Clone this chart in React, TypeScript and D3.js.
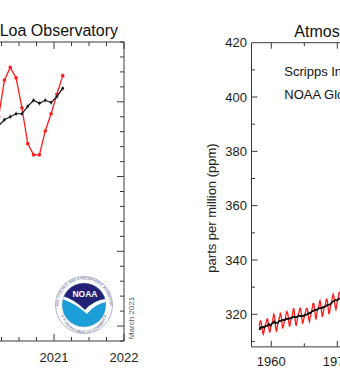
import React from "react";
import * as d3 from "d3";

// ---------- data: recent Mauna Loa monthly means (left panel) ----------
const recentStartYear = 2020;
const recentStartMonth = 2; // February 2020
const recentMonthly = [414.3, 414.0, 416.45, 417.3, 416.6, 414.6, 412.2, 411.45, 411.45, 413.05, 414.2, 415.5, 416.75];
const recentTrend = [413.3, 413.4, 413.8, 414.0, 414.2, 414.2, 414.7, 415.1, 414.9, 415.1, 414.95, 415.35, 415.9];
const recentYearTicks = [2017, 2018, 2019, 2020, 2021, 2022];
const recentPpmMajor = [400, 405, 410, 415];

// ---------- data: full record (right panel) ----------
const fullStartYear = 1958;
const fullStartMonth = 3; // March 1958
const fullMonthly = [
  315.70, 317.45, 317.51, 317.24, 315.86, 314.93, 313.20, 312.66, 313.33, 314.67,
  315.62, 316.38, 316.71, 317.72, 318.29, 318.15, 316.54, 314.80, 313.84, 313.26, 314.80, 315.58,
  316.43, 316.97, 317.58, 319.02, 320.03, 319.59, 318.18, 315.91, 314.16, 313.83, 315.00, 316.19,
  316.93, 317.70, 318.54, 319.48, 320.58, 319.77, 318.57, 316.79, 314.80, 315.38, 316.10, 317.01,
  317.94, 318.55, 319.68, 320.57, 321.02, 320.62, 319.61, 317.40, 316.25, 315.42, 316.69, 317.70,
  318.74, 319.07, 319.86, 321.38, 322.25, 321.48, 319.74, 317.77, 316.21, 315.99, 317.12, 318.31,
  319.57, 320.07, 320.73, 321.84, 322.26, 321.89, 320.44, 318.69, 316.70, 316.87, 317.68, 318.71,
  319.44, 320.44, 320.89, 322.14, 322.17, 321.87, 321.21, 318.87, 317.81, 317.30, 318.87, 319.42,
  320.62, 321.59, 322.39, 323.87, 324.01, 323.75, 322.39, 320.37, 318.64, 318.10, 319.79, 321.08,
  322.07, 322.50, 323.04, 324.42, 325.00, 324.09, 322.54, 320.92, 319.25, 319.39, 320.73, 321.96,
  322.57, 323.15, 323.89, 325.02, 325.57, 325.36, 324.14, 322.11, 320.33, 320.25, 321.32, 322.89,
  324.00, 324.42, 325.63, 326.66, 327.38, 326.71, 325.88, 323.66, 322.38, 321.78, 322.86, 324.12,
  325.06, 325.98, 326.93, 328.13, 328.08, 327.67, 326.34, 324.69, 323.10, 323.07, 324.01, 325.13,
  326.17, 326.68, 327.17, 327.79, 328.93, 328.57, 327.36, 325.43, 323.36, 323.56, 324.80, 326.01,
];
const fullTrend = [
  314.4, 315.2, 314.7, 315.1, 315.2, 315.2, 315.3, 315.3, 315.3, 315.0,
  315.5, 315.7, 315.7, 315.6, 315.8, 316.0, 316.2, 316.5, 316.2, 316.0, 315.8, 316.0,
  316.4, 316.6, 316.7, 316.9, 317.2, 317.4, 317.0, 316.7, 317.0, 316.9, 316.9, 316.9,
  317.0, 317.3, 317.6, 317.5, 317.7, 317.6, 317.6, 317.8, 317.9, 318.0, 317.8, 317.7,
  318.0, 318.0, 318.3, 318.3, 318.4, 318.3, 318.4, 318.4, 318.4, 318.5, 318.5, 318.5,
  318.8, 318.7, 318.8, 319.1, 319.1, 319.0, 319.0, 318.9, 318.9, 318.9, 319.0, 319.1,
  319.3, 319.4, 319.5, 319.5, 319.3, 319.4, 319.4, 319.5, 319.3, 319.4, 319.5, 319.6,
  319.5, 319.8, 319.9, 319.9, 319.9, 320.0, 320.1, 320.1, 320.6, 320.4, 320.5, 320.4,
  320.7, 320.9, 321.1, 321.3, 321.2, 321.5, 321.5, 321.5, 321.7, 321.6, 321.7, 321.8,
  321.9, 322.1, 322.1, 322.3, 322.3, 322.3, 322.2, 322.4, 322.3, 322.6, 322.7, 322.7,
  322.8, 322.8, 322.9, 323.0, 323.1, 323.4, 323.6, 323.5, 323.6, 323.6, 323.6, 323.7,
  324.0, 324.2, 324.4, 324.6, 324.8, 324.8, 324.9, 325.1, 325.2, 325.2, 325.1, 325.1,
  325.3, 325.5, 325.6, 325.8, 325.8, 325.8, 325.9, 326.0, 326.0, 326.1, 326.2, 326.2,
  326.3, 326.4, 326.5, 326.6, 326.7, 326.6, 326.8, 326.9, 327.0, 327.0, 327.1, 327.2,
];
const fullYearTicks = [1960, 1970, 1980, 1990, 2000, 2010, 2020];
const fullPpmTicks = [320, 340, 360, 380, 400, 420];

const FONT = "'Liberation Sans', Arial, Helvetica, sans-serif";
const AXIS = "#3a3a3a";

const toTime = (sy: number, sm: number, i: number) => sy + (sm - 1 + i + 0.5) / 12;

function NoaaLogo({ cx, cy }: { cx: number; cy: number }) {
  const R = 28.5;
  const r = 22;
  const topArc = `M ${cx - 25.5} ${cy} A 25.5 25.5 0 0 1 ${cx + 25.5} ${cy}`;
  const botArc = `M ${cx - 25.5} ${cy + 2} A 25.5 25.5 0 0 0 ${cx + 25.5} ${cy + 2}`;
  return (
    <g>
      <defs>
        <clipPath id="noaaInner">
          <circle cx={cx} cy={cy} r={r} />
        </clipPath>
        <path id="noaaTopArc" d={topArc} />
        <path id="noaaBotArc" d={`M ${cx - 23} ${cy + 5} A 23 23 0 0 0 ${cx + 23} ${cy + 5}`} />
      </defs>
      <circle cx={cx} cy={cy} r={R} fill="#fff" stroke="#8f8fb8" strokeWidth={0.7} />
      <text fontFamily={FONT} fontSize={3.4} fill="#3a3a80" letterSpacing={0.15}>
        <textPath href="#noaaTopArc" startOffset="50%" textAnchor="middle">
          NATIONAL OCEANIC AND ATMOSPHERIC ADMINISTRATION
        </textPath>
      </text>
      <text fontFamily={FONT} fontSize={3.4} fill="#3a3a80" letterSpacing={0.15}>
        <textPath href="#noaaBotArc" startOffset="50%" textAnchor="middle">
          U.S. DEPARTMENT OF COMMERCE
        </textPath>
      </text>
      <g clipPath="url(#noaaInner)">
        <rect x={cx - r} y={cy - r} width={2 * r} height={2 * r} fill="#1c9fd9" />
        <path
          d={`M ${cx - r} ${cy - r} L ${cx + r} ${cy - r} L ${cx + r} ${cy - 6} Q ${cx + 10} ${cy - 5} ${cx + 1} ${cy + 5} Q ${cx - 10} ${cy - 6} ${cx - r} ${cy - 9} Z`}
          fill="#232176"
        />
        <path
          d={`M ${cx - r} ${cy - 9} Q ${cx - 10} ${cy - 6} ${cx + 1} ${cy + 5} Q ${cx + 10} ${cy - 5} ${cx + r} ${cy - 6} L ${cx + r} ${cy - 3} Q ${cx + 11} ${cy - 1} ${cx + 3} ${cy + 9} Q ${cx - 9} ${cy - 2} ${cx - r} ${cy - 6} Z`}
          fill="#fff"
        />
      </g>
      <circle cx={cx} cy={cy} r={r} fill="none" stroke="#b5b5d0" strokeWidth={0.4} />
      <text x={cx + 1} y={cy - 8} fontFamily={FONT} fontSize={8.5} fontWeight="bold" fill="#fff" textAnchor="middle">
        NOAA
      </text>
    </g>
  );
}

export default function App() {
  const W = 340;
  const H = 376;

  // ---- left panel ----
  const L = { left: -226, right: 124, top: 42, bottom: 341 };
  const xL = d3.scaleLinear().domain([2017, 2022]).range([L.left, L.right]);
  const yL = d3.scaleLinear().domain([399, 419]).range([L.bottom, L.top]);
  const lineL = d3
    .line<number>()
    .x((_, i) => xL(toTime(recentStartYear, recentStartMonth, i)))
    .y((d) => yL(d));
  const quarterTicks = d3.range(2017, 2022.001, 0.25);
  const ppmMinorL = d3.range(399, 419.001, 1);

  // ---- right panel ----
  const R = { left: 251.5, top: 42.7, bottom: 346.9 };
  const xR = d3.scaleLinear().domain([1957, 2023]).range([R.left, R.left + 66 * 6.6]);
  const yR = d3.scaleLinear().domain([308, 420]).range([R.bottom, R.top]);
  const lineR = d3
    .line<number>()
    .x((_, i) => xR(toTime(fullStartYear, fullStartMonth, i)))
    .y((d) => yR(d));
  const halfDecade = d3.range(1960, 2021, 5);
  const ppmMinorR = d3.range(310, 420, 10);

  return (
    <svg width={W} height={H} style={{ position: "absolute", left: 0, top: 0, background: "#fff" }}>
      <rect x={0} y={0} width={W} height={H} fill="#fff" />
      <defs>
        <clipPath id="clipL">
          <rect x={L.left} y={L.top} width={L.right - L.left} height={L.bottom - L.top} />
        </clipPath>
        <clipPath id="clipR">
          <rect x={R.left} y={R.top} width={500} height={R.bottom - R.top} />
        </clipPath>
      </defs>

      {/* ================= LEFT PANEL ================= */}
      <text x={118} y={36} fontFamily={FONT} fontSize={16} fill="#111" textAnchor="end">
        Recent Monthly Mean CO<tspan fontSize={11} dy={3}>2</tspan>
        <tspan dy={-3}> at Mauna Loa Observatory</tspan>
      </text>

      <g clipPath="url(#clipL)">
        <path d={lineL(recentMonthly) || ""} fill="none" stroke="#ff1a1a" strokeWidth={1.3} />
        {recentMonthly.map((d, i) => (
          <circle key={"rm" + i} cx={xL(toTime(recentStartYear, recentStartMonth, i))} cy={yL(d)} r={1.8} fill="#ff1a1a" />
        ))}
        <path d={lineL(recentTrend) || ""} fill="none" stroke="#111" strokeWidth={1.2} />
        {recentTrend.map((d, i) => {
          const x = xL(toTime(recentStartYear, recentStartMonth, i));
          return (
            <g key={"rt" + i}>
              <line x1={x} x2={x} y1={yL(d) - 2.5} y2={yL(d) + 2.5} stroke="#666" strokeWidth={0.7} />
              <circle cx={x} cy={yL(d)} r={1.3} fill="#111" />
            </g>
          );
        })}
      </g>

      <g stroke={AXIS} strokeWidth={1} fill="none">
        <line x1={L.left} x2={L.right} y1={L.top} y2={L.top} />
        <line x1={L.left} x2={L.right} y1={L.bottom} y2={L.bottom} />
        <line x1={L.right} x2={L.right} y1={L.top} y2={L.bottom} />
        {quarterTicks.map((t) => {
          const major = Math.abs(t - Math.round(t)) < 1e-6;
          const len = major ? 7 : 4;
          return (
            <g key={"qt" + t}>
              <line x1={xL(t)} x2={xL(t)} y1={L.bottom} y2={L.bottom - len} />
              <line x1={xL(t)} x2={xL(t)} y1={L.top} y2={L.top + len} />
            </g>
          );
        })}
        {ppmMinorL.map((v) => {
          const major = recentPpmMajor.includes(v);
          const len = major ? 7 : 4;
          return <line key={"pl" + v} x1={L.right} x2={L.right - len} y1={yL(v)} y2={yL(v)} />;
        })}
      </g>
      {recentYearTicks.map((t) => (
        <text key={"ly" + t} x={xL(t)} y={362} fontFamily={FONT} fontSize={13} fill="#222" textAnchor="middle">
          {t}
        </text>
      ))}
      <text
        x={0}
        y={0}
        transform={`translate(134, 318) rotate(-90)`}
        fontFamily={FONT}
        fontSize={8}
        fill="#555"
        textAnchor="middle"
      >
        March 2021
      </text>
      <NoaaLogo cx={84} cy={305} />

      {/* ================= RIGHT PANEL ================= */}
      <text x={294.3} y={36.5} fontFamily={FONT} fontSize={16} fill="#111">
        Atmospheric CO<tspan fontSize={11} dy={3}>2</tspan>
        <tspan dy={-3}> at Mauna Loa Observatory</tspan>
      </text>
      <text x={284.3} y={76} fontFamily={FONT} fontSize={13} fill="#111">
        Scripps Institution of Oceanography
      </text>
      <text x={284.3} y={99} fontFamily={FONT} fontSize={13} fill="#111">
        NOAA Global Monitoring Laboratory
      </text>

      <g clipPath="url(#clipR)">
        <path d={lineR(fullMonthly) || ""} fill="none" stroke="#ff1a1a" strokeWidth={1.3} />
        <path d={lineR(fullTrend) || ""} fill="none" stroke="#111" strokeWidth={1.2} />
        {fullTrend.map((d, i) => (
          <circle key={"ft" + i} cx={xR(toTime(fullStartYear, fullStartMonth, i))} cy={yR(d)} r={0.8} fill="#111" />
        ))}
      </g>

      <g stroke={AXIS} strokeWidth={1} fill="none">
        <line x1={R.left} x2={W + 5} y1={R.top} y2={R.top} />
        <line x1={R.left} x2={W + 5} y1={R.bottom} y2={R.bottom} />
        <line x1={R.left} x2={R.left} y1={R.top} y2={R.bottom} />
        {halfDecade.map((t) => {
          const major = t % 10 === 0;
          const len = major ? 6 : 3.5;
          return (
            <g key={"rx" + t}>
              <line x1={xR(t)} x2={xR(t)} y1={R.bottom} y2={R.bottom - len} />
              <line x1={xR(t)} x2={xR(t)} y1={R.top} y2={R.top + len} />
            </g>
          );
        })}
        {ppmMinorR.map((v) => {
          const major = v % 20 === 0;
          const len = major ? 6 : 3.5;
          return <line key={"ry" + v} x1={R.left} x2={R.left + len} y1={yR(v)} y2={yR(v)} />;
        })}
      </g>
      {fullPpmTicks.map((v) => (
        <text key={"rl" + v} x={247} y={yR(v) + 4.6} fontFamily={FONT} fontSize={13} fill="#222" textAnchor="end">
          {v}
        </text>
      ))}
      {fullYearTicks.map((t) => (
        <text key={"rxl" + t} x={xR(t)} y={366} fontFamily={FONT} fontSize={13} fill="#222" textAnchor="middle">
          {t}
        </text>
      ))}
      <text
        x={0}
        y={0}
        transform={`translate(215.5, 208) rotate(-90)`}
        fontFamily={FONT}
        fontSize={13}
        fill="#222"
        textAnchor="middle"
      >
        parts per million (ppm)
      </text>
    </svg>
  );
}
